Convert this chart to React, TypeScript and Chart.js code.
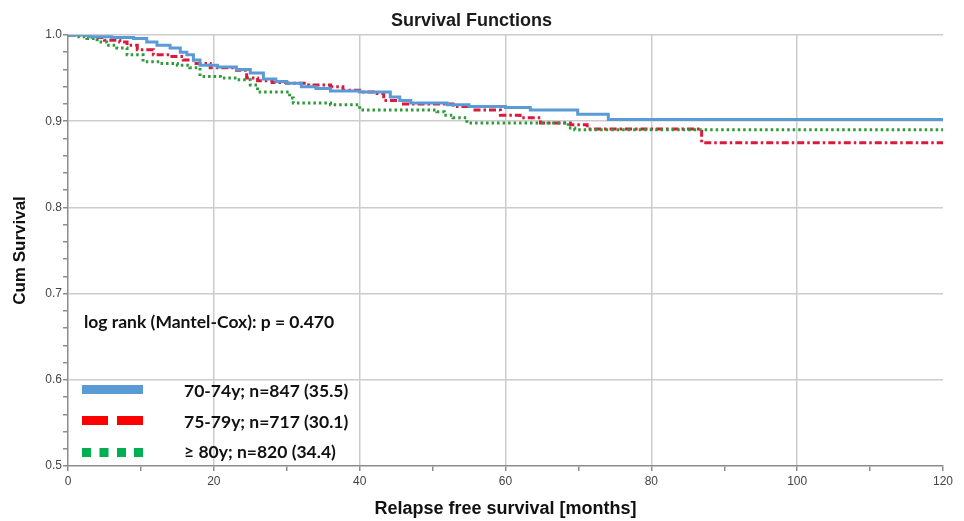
import React, { useEffect, useRef } from 'react';
import { Chart, registerables } from 'chart.js';

Chart.register(...registerables);

// ---- Data ----
const blueMonths = [0, 3, 6, 9, 10.8, 12.2, 14, 15.4, 16.3, 17.2, 18.1, 20.5, 23.1, 25, 26.8, 28.5, 30, 32, 34, 36, 40, 44.2, 45.5, 47, 52, 55, 60, 63.4, 69.9, 74.1, 120];
const blueSurv = [1.0, 0.998, 0.997, 0.996, 0.992, 0.988, 0.985, 0.98, 0.977, 0.971, 0.965, 0.963, 0.96, 0.956, 0.949, 0.946, 0.944, 0.94, 0.938, 0.935, 0.934, 0.928, 0.924, 0.921, 0.919, 0.917, 0.916, 0.913, 0.908, 0.902, 0.902];

const redMonths = [0, 3.4, 5, 7.1, 8.1, 9.5, 11.7, 14, 15.8, 17.2, 19.5, 23.1, 24.5, 26, 28, 30, 33, 36, 37.7, 40, 42.4, 43.3, 46, 52.8, 55.6, 59.3, 62, 64.8, 68.9, 71.2, 86.9, 120];
const redSurv = [1.0, 0.997, 0.994, 0.992, 0.988, 0.983, 0.977, 0.975, 0.971, 0.967, 0.962, 0.959, 0.95, 0.947, 0.945, 0.944, 0.942, 0.94, 0.936, 0.934, 0.932, 0.924, 0.92, 0.917, 0.913, 0.907, 0.904, 0.898, 0.896, 0.891, 0.875, 0.875];

const greenMonths = [0, 1.5, 2.6, 4, 5.3, 6.7, 8.1, 10.3, 12.6, 15, 16.7, 18.1, 20.9, 23.1, 25, 26, 30.4, 30.9, 36, 40, 50.6, 51.6, 52.8, 54.7, 68.6, 69.5, 120];
const greenSurv = [1.0, 0.998, 0.996, 0.992, 0.988, 0.985, 0.977, 0.969, 0.967, 0.965, 0.962, 0.952, 0.95, 0.948, 0.942, 0.934, 0.927, 0.921, 0.919, 0.913, 0.911, 0.907, 0.904, 0.898, 0.892, 0.89, 0.89];

const seriesLabels = ['70-74y; n=847 (35.5)', '75-79y; n=717 (30.1)', '\u2265 80y; n=820 (34.4)'];
const xTickLabels = ['0', '20', '40', '60', '80', '100', '120'];
const yTickLabels = ['0.5', '0.6', '0.7', '0.8', '0.9', '1.0'];
const chartTitle = 'Survival Functions';
const xTitle = 'Relapse free survival [months]';
const yTitle = 'Cum Survival';
const annotationText = 'log rank (Mantel-Cox): p = 0.470';

const lineColors = ['#5b9bd5', '#d81b3c', '#2e9a3a'];
const legendColors = ['#5b9bd5', '#ff0000', '#00b050'];

const toPoints = (xs: number[], ys: number[]) => xs.map((x, i) => ({ x, y: ys[i] }));

const isMajorY = (v: number) => Math.abs(v * 10 - Math.round(v * 10)) < 1e-6;
const isMajorX = (v: number) => Math.abs(v / 20 - Math.round(v / 20)) < 1e-6;

const overlayPlugin = {
  id: 'kmOverlay',
  afterDraw(chart: any) {
    const ctx = chart.ctx as CanvasRenderingContext2D;
    const { left } = chart.chartArea;
    ctx.save();
    ctx.fillStyle = '#111';
    ctx.textAlign = 'left';
    ctx.textBaseline = 'alphabetic';
    ctx.font = 'bold 17.5px Lato';
    ctx.fillText(annotationText, left + 16, 328);

    const sx = left + 14;
    const sw = 61;
    const rows = [389.5, 420.5, 452.5];
    const baselines = [397, 428, 458];
    // blue solid
    ctx.fillStyle = legendColors[0];
    ctx.fillRect(sx, rows[0] - 4.5, sw, 9);
    // red dashes
    ctx.fillStyle = legendColors[1];
    ctx.fillRect(sx, rows[1] - 4.5, 26, 9);
    ctx.fillRect(sx + 35, rows[1] - 4.5, 26, 9);
    // green squares
    ctx.fillStyle = legendColors[2];
    [0, 17.5, 35, 52].forEach((o) => ctx.fillRect(sx + o, rows[2] - 4.5, 9, 9));

    ctx.fillStyle = '#111';
    ctx.font = 'bold 17.5px Lato';
    seriesLabels.forEach((t, i) => {
      ctx.fillText(t, left + 116, baselines[i]);
    });
    ctx.restore();
  },
};

export default function App() {
  const ref = useRef<HTMLCanvasElement | null>(null);

  useEffect(() => {
    document.body.style.margin = '0';
    document.body.style.overflow = 'hidden';
    const canvas = ref.current;
    if (!canvas) return;
    const tickFont = { family: '"Liberation Sans", Arial, sans-serif', size: 12 };
    const chart = new Chart(canvas, {
      type: 'line',
      data: {
        datasets: [
          {
            label: seriesLabels[0],
            data: toPoints(blueMonths, blueSurv),
            borderColor: lineColors[0],
            borderWidth: 3,
            stepped: 'before',
            pointRadius: 0,
            fill: false,
            order: 1,
          },
          {
            label: seriesLabels[1],
            data: toPoints(redMonths, redSurv),
            borderColor: lineColors[1],
            borderWidth: 3,
            borderDash: [7, 3, 2.5, 3],
            stepped: 'before',
            pointRadius: 0,
            fill: false,
            order: 3,
          },
          {
            label: seriesLabels[2],
            data: toPoints(greenMonths, greenSurv),
            borderColor: lineColors[2],
            borderWidth: 3,
            borderDash: [2.5, 3],
            stepped: 'before',
            pointRadius: 0,
            fill: false,
            order: 2,
          },
        ],
      },
      options: {
        responsive: false,
        animation: false,
        layout: { padding: { left: 0, right: 21, top: 0, bottom: 0 } },
        plugins: {
          legend: { display: false },
          tooltip: { enabled: false },
          title: {
            display: true,
            text: chartTitle,
            color: '#1a1a1a',
            font: { family: '"Liberation Sans", Arial, sans-serif', size: 18, weight: 'bold' },
            padding: { top: 10.2, bottom: 3.2 },
          },
        },
        scales: {
          x: {
            type: 'linear',
            min: 0,
            max: 120,
            ticks: {
              stepSize: 10,
              autoSkip: false,
              maxRotation: 0,
              color: '#444',
              font: tickFont,
              padding: 3,
              callback: (v: any) => {
                const n = Number(v);
                return isMajorX(n) ? xTickLabels[Math.round(n / 20)] : '';
              },
            },
            grid: {
              color: (c: any) => {
                const v = c.tick ? c.tick.value : NaN;
                return isMajorX(v) && v > 0 && v < 120 ? '#cccccc' : 'rgba(0,0,0,0)';
              },
              lineWidth: 1.5,
              tickColor: '#8c8c8c',
              tickLength: 5,
              tickWidth: 1.5,
            },
            border: { color: '#8c8c8c', width: 1.5 },
            title: {
              display: true,
              text: xTitle,
              color: '#111',
              font: { family: '"Liberation Sans", Arial, sans-serif', size: 18, weight: 'bold' },
              padding: { top: 0, bottom: 1 },
            },
            afterFit: (s: any) => {
              s.height = 55;
            },
          },
          y: {
            type: 'linear',
            min: 0.5,
            max: 1.0,
            ticks: {
              stepSize: 0.02,
              maxTicksLimit: 100,
              autoSkip: false,
              color: '#444',
              font: tickFont,
              padding: 1,
              callback: (v: any) => {
                const n = Number(v);
                return isMajorY(n) ? yTickLabels[Math.round((n - 0.5) * 10)] : '';
              },
            },
            grid: {
              color: (c: any) => {
                const v = c.tick ? c.tick.value : NaN;
                return isMajorY(v) && v > 0.55 ? '#cccccc' : 'rgba(0,0,0,0)';
              },
              lineWidth: 1.5,
              tickColor: '#8c8c8c',
              tickLength: 5,
              tickWidth: 1.5,
            },
            border: { color: '#8c8c8c', width: 1.5 },
            title: {
              display: true,
              text: yTitle,
              color: '#111',
              font: { family: '"Liberation Sans", Arial, sans-serif', size: 17, weight: 'bold' },
              padding: { top: 10, bottom: 0 },
            },
            afterFit: (s: any) => {
              s.width = 68;
            },
          },
        },
      } as any,
      plugins: [overlayPlugin],
    });
    return () => chart.destroy();
  }, []);

  return (
    <div style={{ width: 964, height: 521, position: 'relative', background: '#fff' }}>
      <canvas ref={ref} width={964} height={521} style={{ display: 'block', width: 964, height: 521 }} />
    </div>
  );
}
